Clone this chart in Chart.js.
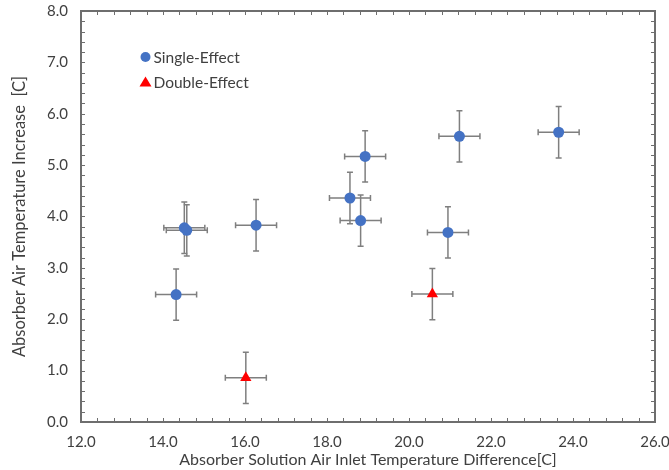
<!DOCTYPE html>
<html lang="en">
<head>
    <meta charset="UTF-8">
    <title>Absorber Air Temperature Increase</title>
    <script src="https://cdn.jsdelivr.net/npm/chart.js"></script>
    <style>
        body {
            margin: 0;
            padding: 0;
            background-color: #fff;
        }
        .chart-container {
            width: 669px;
            height: 470px;
            position: relative;
        }
    </style>
</head>
<body>
    <div class="chart-container">
        <canvas id="absorberChart"></canvas>
    </div>
    <script>
        // single-effect runs
        const singleX = [14.32, 14.52, 14.58, 16.27, 18.56, 18.82, 18.93, 20.95, 21.23, 23.65];
        const singleY = [2.48, 3.78, 3.73, 3.83, 4.36, 3.92, 5.17, 3.69, 5.56, 5.64];
        const singleXErr = [0.5, 0.5, 0.5, 0.5, 0.5, 0.5, 0.5, 0.5, 0.5, 0.5];
        const singleYErr = [0.5, 0.5, 0.5, 0.5, 0.5, 0.5, 0.5, 0.5, 0.5, 0.5];

        // double-effect runs
        const doubleX = [16.02, 20.57];
        const doubleY = [0.86, 2.49];
        const doubleXErr = [0.5, 0.5];
        const doubleYErr = [0.5, 0.5];

        const seriesLabels = ['Single-Effect', 'Double-Effect'];
        const xTitle = 'Absorber Solution Air Inlet Temperature Difference[C]';
        const yTitle = 'Absorber Air Temperature Increase  [C]';

        const FONT = 'Lato, "Liberation Sans", sans-serif';
        const TEXT = '#404040';
        const FRAME = '#6e6e6e';

        function points(xs, ys, xe, ye) {
            return xs.map((x, i) => ({ x: x, y: ys[i], xErr: xe[i], yErr: ye[i] }));
        }

        // error bars, drawn under the markers
        const errorBars = {
            id: 'errorBars',
            beforeDatasetsDraw(chart) {
                const ctx = chart.ctx;
                const xs = chart.scales.x, ys = chart.scales.y;
                const cap = 3;
                ctx.save();
                ctx.strokeStyle = '#7f7f7f';
                ctx.lineWidth = 1.5;
                chart.data.datasets.forEach(ds => {
                    ds.data.forEach(p => {
                        const cx = xs.getPixelForValue(p.x);
                        const cy = ys.getPixelForValue(p.y);
                        const x0 = xs.getPixelForValue(p.x - p.xErr);
                        const x1 = xs.getPixelForValue(p.x + p.xErr);
                        const y0 = ys.getPixelForValue(p.y - p.yErr);
                        const y1 = ys.getPixelForValue(p.y + p.yErr);
                        ctx.beginPath();
                        ctx.moveTo(x0, cy); ctx.lineTo(x1, cy);
                        ctx.moveTo(x0, cy - cap); ctx.lineTo(x0, cy + cap);
                        ctx.moveTo(x1, cy - cap); ctx.lineTo(x1, cy + cap);
                        ctx.moveTo(cx, y0); ctx.lineTo(cx, y1);
                        ctx.moveTo(cx - cap, y0); ctx.lineTo(cx + cap, y0);
                        ctx.moveTo(cx - cap, y1); ctx.lineTo(cx + cap, y1);
                        ctx.stroke();
                    });
                });
                ctx.restore();
            }
        };

        // box frame with inward major/minor ticks on all four sides
        const frameTicks = {
            id: 'frameTicks',
            afterDraw(chart) {
                const ctx = chart.ctx;
                const a = chart.chartArea;
                const xs = chart.scales.x, ys = chart.scales.y;
                const len = 4;
                ctx.save();
                ctx.strokeStyle = FRAME;
                ctx.lineWidth = 1;
                ctx.beginPath();
                for (let v = xs.min; v <= xs.max + 1e-9; v += 0.4) {
                    const px = Math.round(xs.getPixelForValue(v)) + 0.5;
                    ctx.moveTo(px, a.bottom); ctx.lineTo(px, a.bottom - len);
                    ctx.moveTo(px, a.top); ctx.lineTo(px, a.top + len);
                }
                for (let v = ys.min; v <= ys.max + 1e-9; v += 0.2) {
                    const py = Math.round(ys.getPixelForValue(v)) + 0.5;
                    ctx.moveTo(a.left, py); ctx.lineTo(a.left + len, py);
                    ctx.moveTo(a.right, py); ctx.lineTo(a.right - len, py);
                }
                ctx.stroke();
                ctx.lineWidth = 2;
                ctx.strokeRect(a.left, a.top, a.right - a.left, a.bottom - a.top);
                ctx.restore();
            }
        };

        // legend inside the plot area
        const insideLegend = {
            id: 'insideLegend',
            afterDraw(chart) {
                const ctx = chart.ctx;
                const lx = 145.5, ly = 57, gap = 25;
                ctx.save();
                ctx.font = '15.5px ' + FONT;
                ctx.textBaseline = 'middle';
                chart.data.datasets.forEach((ds, i) => {
                    const y = ly + i * gap;
                    ctx.fillStyle = ds.backgroundColor;
                    ctx.beginPath();
                    if (ds.pointStyle === 'triangle') {
                        ctx.moveTo(lx, y - 5.5);
                        ctx.lineTo(lx + 6, y + 4.5);
                        ctx.lineTo(lx - 6, y + 4.5);
                        ctx.closePath();
                    } else {
                        ctx.arc(lx, y, 5, 0, Math.PI * 2);
                    }
                    ctx.fill();
                    ctx.fillStyle = TEXT;
                    ctx.fillText(ds.label, lx + 8, y + 1);
                });
                ctx.restore();
            }
        };

        const ctx = document.getElementById('absorberChart').getContext('2d');

        new Chart(ctx, {
            type: 'scatter',
            data: {
                datasets: [{
                    label: seriesLabels[0],
                    data: points(singleX, singleY, singleXErr, singleYErr),
                    backgroundColor: '#4472C4',
                    borderColor: '#4472C4',
                    pointStyle: 'circle',
                    pointRadius: 5.5,
                    pointBorderWidth: 0
                }, {
                    label: seriesLabels[1],
                    data: points(doubleX, doubleY, doubleXErr, doubleYErr),
                    backgroundColor: '#FF0000',
                    borderColor: '#FF0000',
                    pointStyle: 'triangle',
                    pointRadius: 6.5,
                    pointBorderWidth: 0
                }]
            },
            options: {
                responsive: true,
                maintainAspectRatio: false,
                animation: false,
                layout: { padding: { top: 11, right: 14, left: 0, bottom: 0 } },
                plugins: {
                    legend: { display: false },
                    tooltip: { enabled: false }
                },
                scales: {
                    x: {
                        type: 'linear',
                        min: 12,
                        max: 26,
                        border: { display: false },
                        grid: { display: false, drawTicks: false },
                        ticks: {
                            stepSize: 2,
                            padding: 11,
                            color: TEXT,
                            font: { family: FONT, size: 15 },
                            callback: v => v.toFixed(1)
                        },
                        title: {
                            display: true,
                            text: xTitle,
                            color: TEXT,
                            font: { family: FONT, size: 16 },
                            padding: { top: 0, bottom: 1 }
                        },
                        afterFit: s => {
                            s.height = 48;
                            s.paddingLeft = 0;
                            s.paddingRight = 0;
                        }
                    },
                    y: {
                        type: 'linear',
                        min: 0,
                        max: 8,
                        border: { display: false },
                        grid: { display: false, drawTicks: false },
                        ticks: {
                            stepSize: 1,
                            padding: 13,
                            color: TEXT,
                            font: { family: FONT, size: 15 },
                            callback: v => v.toFixed(1)
                        },
                        title: {
                            display: true,
                            text: yTitle,
                            color: TEXT,
                            font: { family: FONT, size: 16.5 },
                            padding: { top: 10, bottom: 0 }
                        },
                        afterFit: s => {
                            s.width = 81;
                            s.paddingTop = 0;
                            s.paddingBottom = 0;
                        }
                    }
                }
            },
            plugins: [errorBars, frameTicks, insideLegend]
        });
    </script>
</body>
</html>
